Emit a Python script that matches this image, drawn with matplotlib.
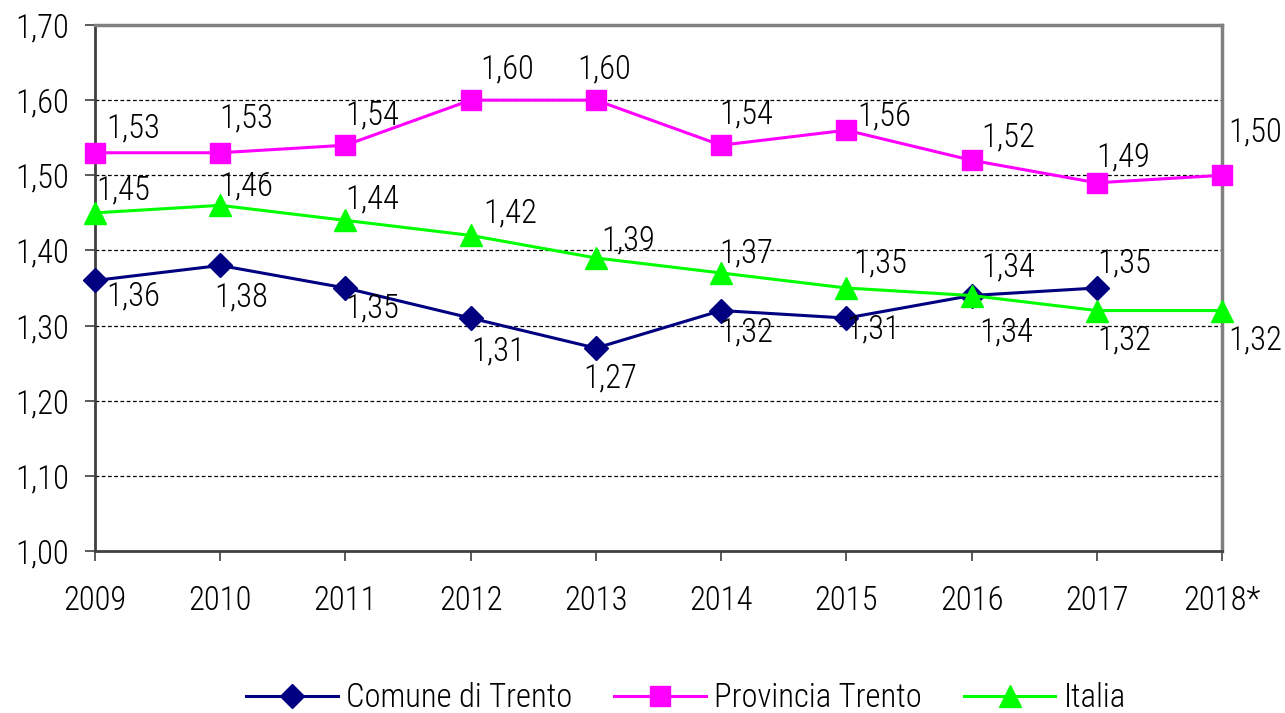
import numpy as np
import matplotlib.pyplot as plt

years = ['2009', '2010', '2011', '2012', '2013', '2014', '2015', '2016', '2017', '2018*']
comune = [1.36, 1.38, 1.35, 1.31, 1.27, 1.32, 1.31, 1.34, 1.35, np.nan]
provincia = [1.53, 1.53, 1.54, 1.60, 1.60, 1.54, 1.56, 1.52, 1.49, 1.50]
italia = [1.45, 1.46, 1.44, 1.42, 1.39, 1.37, 1.35, 1.34, 1.32, 1.32]
yticks = [1.0, 1.1, 1.2, 1.3, 1.4, 1.5, 1.6, 1.7]

# label offsets in pixels (dx, dy), dy positive = up
off_prov = [(38, 24), (26, 34), (27, 30), (36, 31), (8, 31), (25, 31), (38, 14), (37, 23), (26, 25), (33, 43)]
off_ital = [(28, 22), (26, 19), (27, 21), (40, 22), (32, 18), (25, 20), (34, 25), (37, 28), (27, -30), (33, -30)]
off_com = [(38, -16), (21, -32), (27, -20), (28, -33), (14, -30), (25, -22), (27, -11), (35, -37), (27, 25)]

plt.rcParams['font.family'] = ['Roboto Condensed', 'DejaVu Sans']
plt.rcParams['font.weight'] = 'light'
FS = 23.5

fig = plt.figure(figsize=(12.85, 7.13), dpi=100)
ax = fig.add_axes([95 / 1285, 1 - 551 / 713, (1222 - 95) / 1285, (551 - 25) / 713])

x = np.arange(len(years))
ax.plot(x, comune, color='#000080', lw=2.2, marker='D', ms=12, clip_on=False, zorder=5, label='Comune di Trento')
ax.plot(x, provincia, color='#FF00FF', lw=2.2, marker='s', ms=14, clip_on=False, zorder=5, label='Provincia Trento')
ax.plot(x, italia, color='#00FF00', lw=2.2, marker='^', ms=16, clip_on=False, zorder=5, label='Italia')

def lab(vals, offs):
    for i, (v, o) in enumerate(zip(vals, offs)):
        if np.isnan(v):
            continue
        ax.annotate(f'{v:.2f}'.replace('.', ','), (i, v), xytext=o, textcoords='offset pixels',
                    ha='center', va='center', fontsize=FS, annotation_clip=False, zorder=6)

lab(provincia, off_prov)
lab(italia, off_ital)
lab(comune, off_com)

ax.set_xlim(0, len(years) - 1)
ax.set_ylim(1.0, 1.7)
ax.set_xticks(x)
ax.set_xticklabels(years)
ax.set_yticks(yticks)
ax.set_yticklabels([f'{t:.2f}'.replace('.', ',') for t in yticks])
ax.tick_params(axis='both', labelsize=FS, direction='out', length=7.5, width=1.2, color='#404040')
ax.tick_params(axis='x', pad=17)
ax.tick_params(axis='y', pad=11)

for t in yticks[1:-1]:
    ax.axhline(t, color='black', lw=0.9, ls=(0, (3, 2)), zorder=1)

ax.spines['left'].set_color('#404040')
ax.spines['bottom'].set_color('#404040')
ax.spines['left'].set_linewidth(2)
ax.spines['bottom'].set_linewidth(2)
ax.spines['top'].set_color('#808080')
ax.spines['right'].set_color('#808080')
ax.spines['top'].set_linewidth(2.5)
ax.spines['right'].set_linewidth(2.5)

fig.legend(loc='center', bbox_to_anchor=(686 / 1285, 1 - 698 / 713), ncol=3, frameon=False,
           fontsize=FS, handlelength=2.8, columnspacing=1.3, handletextpad=0.25)

fig.savefig('out.png', dpi=100)
